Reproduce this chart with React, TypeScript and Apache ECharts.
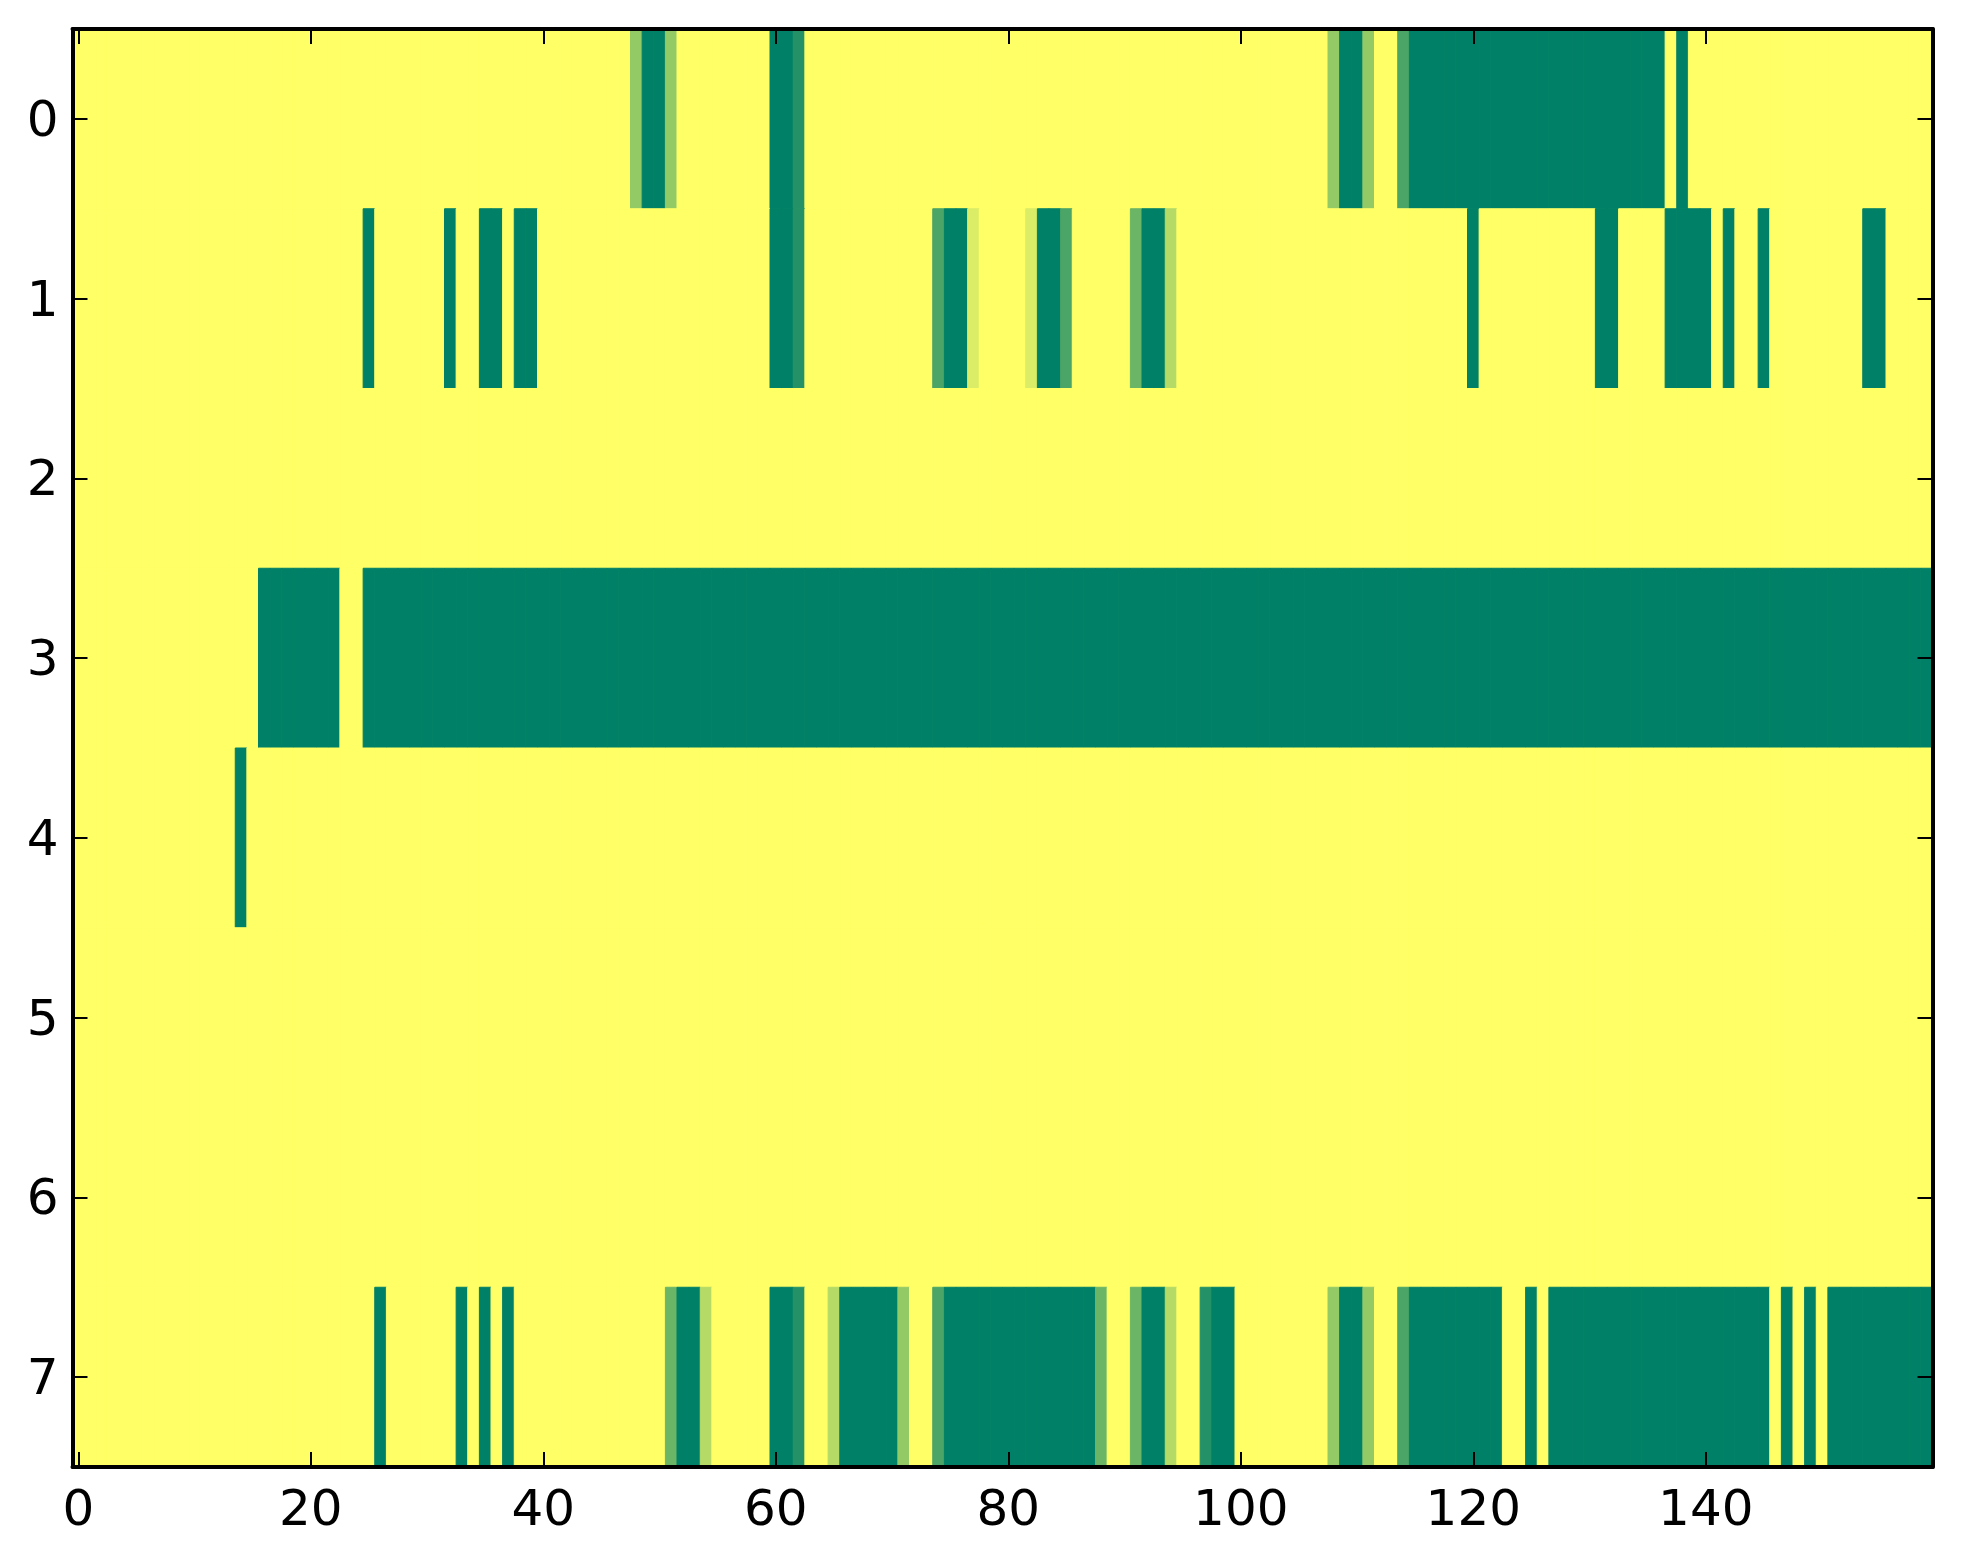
import React, { useEffect, useRef } from "react";
import * as echarts from "echarts";

// Cell codes: '.' = 1 (yellow), '#' = 0 (dark green), letters = intermediate values
const codeValues: Record<string, number> = {
  ".": 1,
  "#": 0,
  a: 0.14,
  b: 0.29,
  c: 0.42,
  d: 0.58,
  e: 0.71,
  f: 0.86,
};

// Each row: 16 groups of 10 columns (0..159)
const row0 =
  ".......... .......... .......... .......... ........d# #d........ ##a....... .......... " +
  ".......... .......... ........d# #d..b##### ########## #######.#. .......... ..........";
const row1 =
  ".......... .......... .....#.... ..#..##.## .......... .......... ##a....... ....b##f.. " +
  "..f##b.... .c##e..... .......... .......... #......... .##....### #.#..#.... ....##....";
const row2 =
  ".......... .......... .......... .......... .......... .......... .......... .......... " +
  ".......... .......... .......... .......... .......... .......... .......... ..........";
const row3 =
  ".......... ......#### ###..##### ########## ########## ########## ########## ########## " +
  "########## ########## ########## ########## ########## ########## ########## ##########";
const row4 =
  ".......... ....#..... .......... .......... .......... .......... .......... .......... " +
  ".......... .......... .......... .......... .......... .......... .......... ..........";
const row5 = row2;
const row6 = row2;
const row7 =
  ".......... .......... ......#... ...#.#.#.. .......... .c##e..... ##a..e#### #d..b##### " +
  "########c. .c##e..a## ........d# #d..b##### ###..#.### ########## ######.#.# .#########";

const rowStrings = [row0, row1, row2, row3, row4, row5, row6, row7];
const yCategories = ["0", "1", "2", "3", "4", "5", "6", "7"];
const xTickValues = [0, 20, 40, 60, 80, 100, 120, 140];
const columnCount = 160;

export default function App() {
  const ref = useRef<HTMLDivElement>(null);

  useEffect(() => {
    if (!ref.current) return;
    const chart = echarts.init(ref.current, undefined, { renderer: "svg" });

    const xCategories: string[] = [];
    for (let i = 0; i < columnCount; i++) xCategories.push(String(i));

    const data: number[][] = [];
    rowStrings.forEach((s, r) => {
      const cells = s.replace(/ /g, "");
      for (let c = 0; c < cells.length; c++) {
        data.push([c, r, codeValues[cells[c]]]);
      }
    });

    const font = {
      fontFamily: "DejaVu Sans",
      fontSize: 50,
      color: "#000",
    };
    const axisLine = { show: true, lineStyle: { color: "#000", width: 4 } };
    const tickStyle = { color: "#000", width: 2 };
    const xTickInterval = (index: number) => xTickValues.includes(index);

    chart.setOption({
      animation: false,
      backgroundColor: "#fff",
      grid: { left: 72.5, top: 29, width: 1860, height: 1438, containLabel: false },
      visualMap: {
        show: false,
        type: "continuous",
        min: 0,
        max: 1,
        dimension: 2,
        seriesIndex: 0,
        inRange: { color: ["#008066", "#ffff66"] },
      },
      xAxis: [
        {
          type: "category",
          position: "bottom",
          data: xCategories,
          boundaryGap: true,
          z: 10,
          axisLine,
          axisTick: {
            show: true,
            inside: true,
            length: 15,
            alignWithLabel: true,
            interval: xTickInterval,
            lineStyle: tickStyle,
          },
          axisLabel: {
            ...font,
            margin: 16,
            interval: xTickInterval,
          },
          splitLine: { show: false },
        },
        {
          type: "category",
          position: "top",
          data: xCategories,
          boundaryGap: true,
          z: 10,
          axisLine,
          axisTick: {
            show: true,
            inside: true,
            length: 15,
            alignWithLabel: true,
            interval: xTickInterval,
            lineStyle: tickStyle,
          },
          axisLabel: { show: false },
          splitLine: { show: false },
        },
      ],
      yAxis: [
        {
          type: "category",
          position: "left",
          data: yCategories,
          inverse: true,
          boundaryGap: true,
          z: 10,
          axisLine,
          axisTick: {
            show: true,
            inside: true,
            length: 15,
            alignWithLabel: true,
            interval: 0,
            lineStyle: tickStyle,
          },
          axisLabel: { ...font, margin: 14, interval: 0 },
          splitLine: { show: false },
        },
        {
          type: "category",
          position: "right",
          data: yCategories,
          inverse: true,
          boundaryGap: true,
          z: 10,
          axisLine,
          axisTick: {
            show: true,
            inside: true,
            length: 15,
            alignWithLabel: true,
            interval: 0,
            lineStyle: tickStyle,
          },
          axisLabel: { show: false },
          splitLine: { show: false },
        },
      ],
      series: [
        {
          type: "custom",
          xAxisIndex: 0,
          yAxisIndex: 0,
          encode: { x: 0, y: 1 },
          data,
          renderItem: (params: any, api: any) => {
            const c = api.coord([api.value(0), api.value(1)]);
            const s = api.size([1, 1]);
            const color = api.visual("color");
            return {
              type: "rect",
              shape: { x: c[0] - s[0] / 2, y: c[1] - s[1] / 2, width: s[0], height: s[1] },
              style: { fill: color, stroke: color, lineWidth: 1 },
            };
          },
        },
      ],
    });

    return () => chart.dispose();
  }, []);

  return (
    <div
      ref={ref}
      style={{ position: "fixed", left: 0, top: 0, width: 1963, height: 1564 }}
    />
  );
}
